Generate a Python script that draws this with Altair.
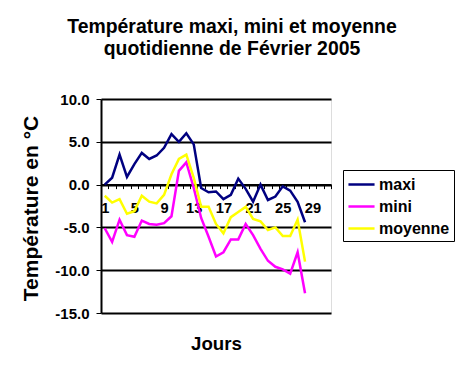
import altair as alt
import pandas as pd

days = list(range(1, 29))
maxi = [0.0, 0.8, 3.5, 0.9, 2.4, 3.7, 3.0, 3.4, 4.3, 5.9, 5.0, 6.0, 4.7, -0.4,
        -0.9, -0.8, -1.7, -1.2, 0.7, -0.5, -2.0, 0.0, -1.8, -1.4, -0.2, -0.7, -2.0, -4.4]
mini = [-5.1, -6.7, -4.1, -5.9, -6.1, -4.2, -4.6, -4.7, -4.5, -3.7, 1.6, 2.6, -0.4, -3.9,
        -6.1, -8.4, -7.9, -6.4, -6.4, -4.6, -5.9, -7.5, -8.9, -9.6, -9.9, -10.4, -7.9, -12.7]
moyenne = [-1.3, -2.1, -1.7, -3.4, -3.1, -1.3, -2.0, -2.2, -1.2, 1.2, 3.0, 3.5, 0.8, -2.6,
           -2.6, -4.6, -5.7, -3.8, -3.2, -2.6, -4.0, -4.3, -5.3, -5.0, -6.0, -6.0, -4.1, -9.0]

all_days = list(range(1, 32))
series = ["maxi", "mini", "moyenne"]
colors = ["#000080", "#FF00FF", "#FFFF00"]
title_lines = ["Température maxi, mini et moyenne", "quotidienne de Février 2005"]

rows = []
for name, vals in zip(series, [maxi, mini, moyenne]):
    for d, v in zip(days, vals):
        rows.append({"Jour": d, "Température": v, "Série": name})
df = pd.DataFrame(rows)

FONT = "Liberation Sans"
W, H = 230, 214
Y0 = H * 15 / 25  # distance of 0 line above the bottom

chart = alt.Chart(df).mark_line(strokeWidth=2.5).encode(
    x=alt.X("Jour:O",
            scale=alt.Scale(type="band", domain=all_days, paddingInner=0, paddingOuter=0),
            axis=alt.Axis(title="Jours", orient="bottom", offset=-Y0,
                          labelAngle=0,
                          labelExpr="(datum.value - 1) % 4 == 0 ? datum.label : ''",
                          tickBand="extent", tickSize=4, tickColor="black", tickWidth=1,
                          domainColor="black", domainWidth=2,
                          labelFont=FONT, labelFontSize=14.67, labelFontWeight="bold",
                          labelColor="black", labelPadding=12,
                          titleFont=FONT, titleFontSize=18.67, titleFontWeight="bold",
                          titleColor="black", titleBaseline="alphabetic",
                          titleY=165, titleX=W / 2)),
    y=alt.Y("Température:Q",
            scale=alt.Scale(domain=[-15, 10], nice=False, zero=False),
            axis=alt.Axis(title="Température en °C", values=[-15, -10, -5, 0, 5, 10],
                          labelExpr="(datum.value < 0 ? '-' : '') + format(abs(datum.value), '.1f')",
                          grid=True, gridColor="black", gridWidth=2, gridOpacity=1,
                          tickSize=5, tickColor="black", tickWidth=1,
                          domainColor="black", domainWidth=2,
                          labelFont=FONT, labelFontSize=15, labelFontWeight="bold",
                          labelColor="black", labelPadding=7,
                          titleFont=FONT, titleFontSize=21, titleFontWeight="bold",
                          titleColor="black", titleAngle=270, titleAlign="center",
                          titleBaseline="middle", titleX=-70, titleY=109)),
    color=alt.Color("Série:N",
                    scale=alt.Scale(domain=series, range=colors),
                    legend=alt.Legend(title=None, orient="none", legendX=242, legendY=71,
                                      symbolType="M-1.45,0H1.45", symbolSize=324,
                                      symbolStrokeWidth=2.5, symbolOffset=4,
                                      labelFont=FONT, labelFontSize=16,
                                      labelFontWeight="bold", labelColor="black",
                                      strokeColor="black", fillColor="white",
                                      padding=4, rowPadding=3, labelOffset=7)),
    order=alt.Order("Jour:O"),
).properties(
    width=W, height=H,
    title=alt.Title(title_lines, anchor="middle", frame="group", dx=16,
                    font=FONT, fontSize=19.4, fontWeight="bold", color="black",
                    lineHeight=22, offset=33),
    autosize=alt.AutoSizeParams(type="none"),
    padding={"left": 93, "top": 91, "right": 125, "bottom": 55},
).configure_view(
    fill="#FF99CC", stroke="#808080", strokeWidth=2
).configure(background="white")

chart.save("out.html", embed_options={"renderer": "svg", "actions": False})
